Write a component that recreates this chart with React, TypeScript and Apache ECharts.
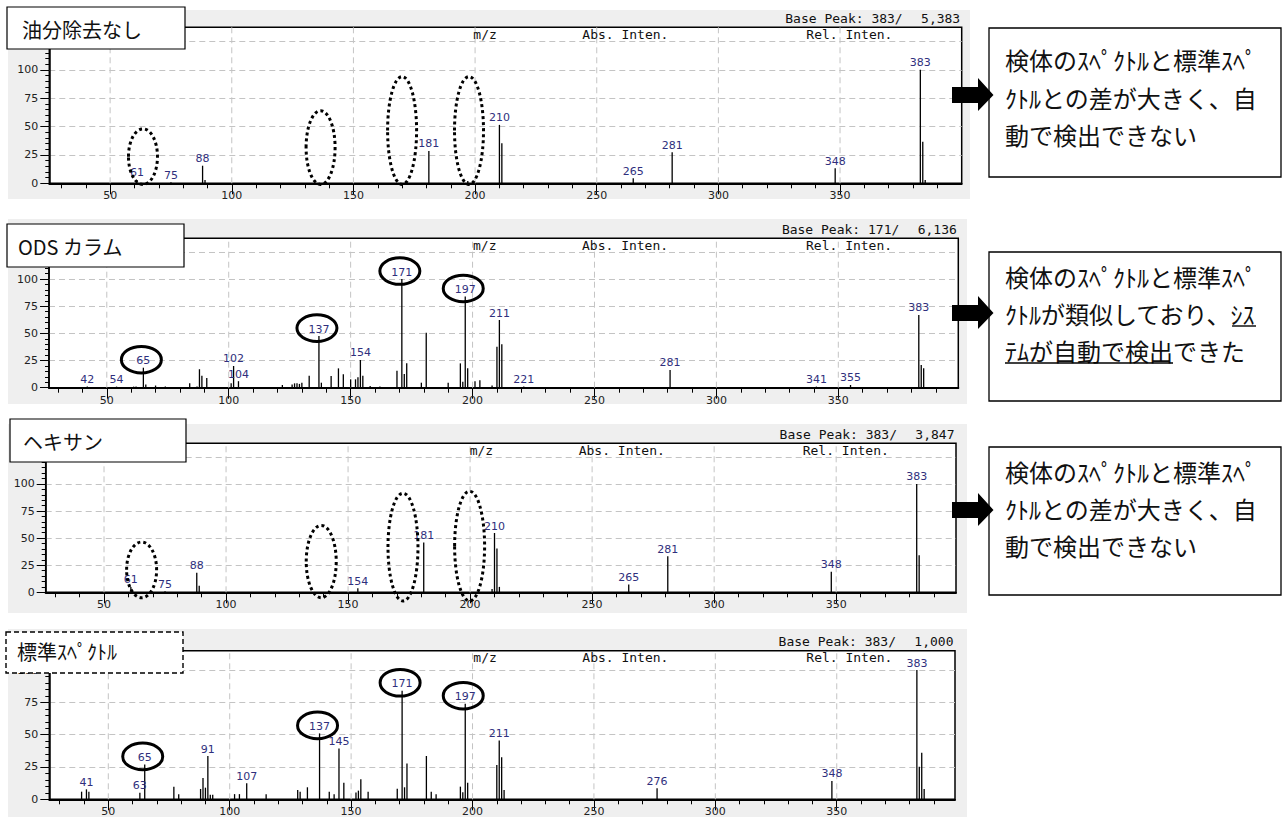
import React, { useEffect, useRef } from 'react';
import * as echarts from 'echarts';

// ---------- data ----------
const TITLES = ['油分除去なし', 'ODS カラム', 'ヘキサン', '標準ｽﾍﾟｸﾄﾙ'];

const P1_MZ = [61, 75, 88, 89, 181, 197, 210, 211, 265, 281, 348, 383, 384, 385];
const P1_INT = [3, 1, 15.5, 3, 28.5, 2, 51.5, 35.3, 4.4, 27.4, 13.2, 100, 36.7, 3];
const P1_LABELED = [61, 75, 88, 181, 210, 265, 281, 348, 383];
const P1_BASE = ['383', '5,383'];

const P2_MZ = [42, 54, 61, 62, 65, 66, 70, 74, 84, 87, 88, 89, 91, 101, 102, 104, 122, 126, 127, 128, 129, 130, 133, 137, 138, 142, 145, 147, 150, 152, 153, 154, 155, 158, 162, 169, 171, 172, 173, 179, 181, 190, 195, 196, 197, 198, 201, 203, 208, 210, 211, 212, 221, 281, 341, 355, 383, 384, 385];
const P2_INT = [1, 1, 1, 1, 18.4, 3, 2, 1, 4, 1, 17, 11, 9, 4, 20, 6, 2.5, 3, 4, 4, 3.5, 4.5, 11, 47.5, 4.6, 10.8, 17.8, 12.3, 7.7, 7.7, 9.6, 25.5, 11, 1.5, 1, 15.6, 100, 12.6, 22.4, 4.6, 50.6, 4.6, 22.4, 5.4, 84, 17.8, 6, 6.8, 2, 37.7, 62.3, 40, 1, 16.3, 1, 2.5, 67, 21, 18];
const P2_LABELED = [42, 54, 65, 102, 104, 137, 154, 171, 197, 211, 221, 281, 341, 355, 383];
const P2_CIRCLED = [65, 137, 171, 197];
const P2_BASE = ['171', '6,136'];

const P3_MZ = [61, 75, 88, 89, 154, 181, 209, 210, 211, 212, 265, 281, 348, 383, 384];
const P3_INT = [5, 1, 18, 6, 3.7, 46, 3, 54.7, 40.4, 5, 7.3, 33.3, 19, 100, 34.2];
const P3_LABELED = [61, 75, 88, 154, 181, 210, 265, 281, 348, 383];
const P3_BASE = ['383', '3,847'];

const P4_MZ = [39, 41, 42, 63, 65, 77, 79, 88, 89, 90, 91, 92, 93, 102, 104, 107, 115, 128, 129, 132, 137, 141, 143, 145, 147, 152, 153, 154, 157, 169, 171, 172, 173, 181, 183, 185, 195, 196, 197, 198, 210, 211, 212, 213, 276, 348, 383, 384, 385, 386];
const P4_INT = [5.9, 7.7, 5.9, 5.1, 27, 9.7, 3.9, 8, 16.5, 9, 33.5, 3.5, 3.5, 4, 4, 12.4, 4, 7.2, 5.9, 9.3, 51, 5.9, 3.9, 39.4, 12.9, 5.2, 6.7, 15.5, 5.9, 8.2, 84, 9.3, 27.8, 33.5, 5.9, 3.9, 9.8, 5.5, 74, 12.9, 26.5, 45.6, 32.5, 7.2, 8.5, 14.2, 100, 25.2, 36, 7.9];
const P4_LABELED = [41, 63, 65, 91, 107, 137, 145, 171, 197, 211, 276, 348, 383];
const P4_CIRCLED = [65, 137, 171, 197];
const P4_BASE = ['383', '1,000'];

// dotted ellipses marking missing peaks (m/z centre, top, bottom in % units)
const P1_MARK_MZ = [63.5, 136.5, 170, 197.5];
const P1_MARK_TOP = [48, 64, 94, 94];
const P1_MARK_BOTTOM = [-1, -1, -1, -1];
const P3_MARK_MZ = [65.4, 139, 172.5, 199.8];
const P3_MARK_TOP = [46.4, 61.7, 91.4, 93.2];
const P3_MARK_BOTTOM = [-5, -5, -8, -8];

const X_LABELS = [50, 100, 150, 200, 250, 300, 350];
const X_MINOR = [30, 40, 60, 70, 80, 90, 110, 120, 130, 140, 160, 170, 180, 190, 210, 220, 230, 240, 260, 270, 280, 290, 310, 320, 330, 340, 360, 370, 380, 390];
const Y_LABELS = [0, 25, 50, 75, 100];

const NOTE_1 = ['検体のｽﾍﾟｸﾄﾙと標準ｽﾍﾟ', 'ｸﾄﾙとの差が大きく、自', '動で検出できない'];
const NOTE_2 = ['検体のｽﾍﾟｸﾄﾙと標準ｽﾍﾟ', 'ｸﾄﾙが類似しており、ｼｽ', 'ﾃﾑが自動で検出できた'];
const NOTE_3 = ['検体のｽﾍﾟｸﾄﾙと標準ｽﾍﾟ', 'ｸﾄﾙとの差が大きく、自', '動で検出できない'];
// underlined character ranges in note 2: [line, start, end]
const NOTE_2_UNDERLINE = [[1, 11, 13], [2, 0, 8]];

const PANELS = [
  { mz: P1_MZ, inten: P1_INT, labeled: P1_LABELED, base: P1_BASE, circled: [] as number[], mark: { mz: P1_MARK_MZ, top: P1_MARK_TOP, bottom: P1_MARK_BOTTOM } },
  { mz: P2_MZ, inten: P2_INT, labeled: P2_LABELED, base: P2_BASE, circled: P2_CIRCLED, mark: null as any },
  { mz: P3_MZ, inten: P3_INT, labeled: P3_LABELED, base: P3_BASE, circled: [] as number[], mark: { mz: P3_MARK_MZ, top: P3_MARK_TOP, bottom: P3_MARK_BOTTOM } },
  { mz: P4_MZ, inten: P4_INT, labeled: P4_LABELED, base: P4_BASE, circled: P4_CIRCLED, mark: null as any },
];

// ---------- layout ----------
const LAYOUT = [
  { left: 49.3, top: 27.3, width: 912.4, height: 156, xMin: 25, xMax: 400, yMax: 137.5, bg: [8, 10, 962, 189], box: [7, 7, 178, 42], tx: 22, ty: 29.5, dashed: false, rx: 14.5 },
  { left: 49, top: 238.3, width: 909.3, height: 149.4, xMin: 26.3, xMax: 399.2, yMax: 137.5, bg: [8, 219, 959, 185], box: [7, 224, 177, 43], tx: 18, ty: 246.5, dashed: false, rx: 15 },
  { left: 45.7, top: 443.3, width: 910.3, height: 149, xMin: 26.1, xMax: 399.1, yMax: 137.5, bg: [8, 424, 959, 189], box: [10, 419, 176, 43], tx: 23, ty: 441.5, dashed: false, rx: 15 },
  { left: 49.3, top: 650.7, width: 905.7, height: 148.6, xMin: 25.7, xMax: 398.7, yMax: 115, bg: [8, 629, 959, 188], box: [6, 632, 177, 41], tx: 17, ty: 651.5, dashed: true, rx: 15 },
];

const NOTE_LAYOUT = [
  { x: 989, y: 28, w: 292, h: 149, lines: [59, 97, 134], arrowY: 95, text: NOTE_1 },
  { x: 989, y: 252, w: 292, h: 149, lines: [276.5, 313.5, 350.5], arrowY: 313, text: NOTE_2 },
  { x: 989, y: 447, w: 292, h: 148, lines: [471.5, 508.5, 545.5], arrowY: 510, text: NOTE_3 },
];

const MONO = '"DejaVu Sans Mono", monospace';
const SANS = '"DejaVu Sans", sans-serif';
const CJK = '"Noto Sans CJK JP", sans-serif';
const LABEL_BLUE = '#2f2f7d';
const GRID_GRAY = '#c4c4c4';

function measure(s: string, font: string): number {
  const c = document.createElement('canvas').getContext('2d');
  if (!c) return s.length * 20;
  c.font = font;
  return c.measureText(s).width;
}

function textEl(text: string, x: number, y: number, font: string, align: string, fill = '#111', z = 50) {
  return {
    type: 'text', x, y, z, silent: true,
    style: { text, fill, font, textAlign: align, align, textVerticalAlign: 'middle', verticalAlign: 'middle' },
  };
}

function buildOption() {
  const grid: any[] = [];
  const xAxis: any[] = [];
  const yAxis: any[] = [];
  const series: any[] = [];
  const graphic: any[] = [];

  PANELS.forEach((p, i) => {
    const l = LAYOUT[i];
    grid.push({
      left: l.left, top: l.top, width: l.width, height: l.height,
      show: true, backgroundColor: '#fff', borderColor: '#000', borderWidth: 1.5,
      containLabel: false, outerBoundsMode: 'none',
    });
    xAxis.push({
      type: 'value', gridIndex: i, min: l.xMin, max: l.xMax, position: 'bottom',
      axisLine: { show: true, onZero: false, lineStyle: { color: '#000', width: 2 } },
      axisTick: { show: true, customValues: X_LABELS, length: 11, lineStyle: { color: '#000', width: 1 } },
      axisLabel: { show: true, customValues: X_LABELS, margin: 7, color: '#222', fontSize: 11, fontFamily: SANS },
      splitLine: { show: false }, minorTick: { show: false },
    });
    xAxis.push({
      type: 'value', gridIndex: i, min: l.xMin, max: l.xMax, position: 'bottom',
      axisLine: { show: false },
      axisTick: { show: true, customValues: X_MINOR, length: 5, lineStyle: { color: '#000', width: 1 } },
      axisLabel: { show: false }, splitLine: { show: false },
    });
    yAxis.push({
      type: 'value', gridIndex: i, min: 0, max: l.yMax, interval: 25,
      axisLine: { show: true, lineStyle: { color: '#000', width: 1.5 } },
      axisTick: { show: true, length: 9, lineStyle: { color: '#000', width: 1 } },
      minorTick: { show: true, splitNumber: 5, length: 4, lineStyle: { color: '#000', width: 1 } },
      axisLabel: {
        margin: 11, color: '#222', fontSize: 11, fontFamily: SANS,
        formatter: (v: number) => (Y_LABELS.indexOf(v) >= 0 ? String(v) : ''),
      },
      splitLine: { show: true, showMinLine: false, showMaxLine: false, lineStyle: { color: GRID_GRAY, type: [6, 4], width: 1 } },
    });

    // vertical dashed grid lines
    series.push({
      type: 'custom', xAxisIndex: 2 * i, yAxisIndex: i, z: 1, silent: true,
      data: X_LABELS.map((v) => [v, 0]), encode: { x: 0, y: 1 },
      renderItem: (_params: any, api: any) => {
        const a = api.coord([api.value(0), 0]);
        const b = api.coord([api.value(0), l.yMax]);
        return { type: 'line', shape: { x1: a[0], y1: a[1], x2: b[0], y2: b[1] }, style: { stroke: GRID_GRAY, lineWidth: 1, lineDash: [6, 4] } };
      },
    });

    // peaks
    series.push({
      type: 'bar', xAxisIndex: 2 * i, yAxisIndex: i, z: 3, barWidth: 1.3, silent: true,
      itemStyle: { color: '#000' },
      label: {
        show: false, position: 'top', distance: 1.5, color: LABEL_BLUE, fontSize: 11, fontFamily: SANS,
        formatter: (q: any) => String(q.value[0]),
      },
      data: p.mz.map((m, k) => (p.labeled.indexOf(m) >= 0
        ? { value: [m, p.inten[k]], label: { show: true } }
        : { value: [m, p.inten[k]] })),
    });

    // dotted ellipses
    if (p.mark) {
      series.push({
        type: 'custom', xAxisIndex: 2 * i, yAxisIndex: i, z: 10, clip: false, silent: true,
        data: p.mark.mz.map((m: number, k: number) => [m, p.mark.top[k], p.mark.bottom[k]]),
        encode: { x: 0, y: 1 },
        renderItem: (_params: any, api: any) => {
          const t = api.coord([api.value(0), api.value(1)]);
          const b = api.coord([api.value(0), api.value(2)]);
          return {
            type: 'ellipse',
            shape: { cx: t[0], cy: (t[1] + b[1]) / 2, rx: l.rx, ry: (b[1] - t[1]) / 2 },
            style: { fill: 'none', stroke: '#000', lineWidth: 3, lineDash: [3, 3] },
          };
        },
      });
    }
    // solid circles around matched peak labels
    if (p.circled.length) {
      series.push({
        type: 'custom', xAxisIndex: 2 * i, yAxisIndex: i, z: 10, clip: false, silent: true,
        data: p.circled.map((m) => [m, p.inten[p.mz.indexOf(m)]]),
        encode: { x: 0, y: 1 },
        renderItem: (_params: any, api: any) => {
          const t = api.coord([api.value(0), api.value(1)]);
          return {
            type: 'ellipse',
            shape: { cx: t[0] - 2, cy: t[1] - 8, rx: 20, ry: 13.3 },
            style: { fill: 'none', stroke: '#000', lineWidth: 3 },
          };
        },
      });
    }

    // panel background
    graphic.push({ type: 'rect', z: -10, silent: true, shape: { x: l.bg[0], y: l.bg[1], width: l.bg[2], height: l.bg[3] }, style: { fill: '#efefef' } });
    // header texts
    const hf = `13px ${MONO}`;
    const right = l.left + l.width;
    graphic.push(textEl('m/z', l.left + 424, l.top + 7, hf, 'left'));
    graphic.push(textEl('Abs. Inten.', l.left + 533, l.top + 7, hf, 'left'));
    graphic.push(textEl('Rel. Inten.', l.left + 757, l.top + 7, hf, 'left'));
    graphic.push(textEl(`Base Peak: ${p.base[0]}/`, right - 59, l.top - 9, hf, 'right'));
    graphic.push(textEl(p.base[1], right - 1.5, l.top - 9, hf, 'right'));
    // title box
    graphic.push({
      type: 'rect', z: 100, silent: true,
      shape: { x: l.box[0], y: l.box[1], width: l.box[2], height: l.box[3] },
      style: { fill: '#fff', stroke: '#000', lineWidth: l.dashed ? 1.4 : 1.2, lineDash: l.dashed ? [5, 3] : null },
    });
    graphic.push(textEl(TITLES[i], l.tx, l.ty, `20px ${CJK}`, 'left', '#111', 101));
  });

  // notes and arrows
  const nf = `24px ${CJK}`;
  NOTE_LAYOUT.forEach((n, j) => {
    graphic.push({
      type: 'rect', z: 100, silent: true,
      shape: { x: n.x, y: n.y, width: n.w, height: n.h },
      style: { fill: '#fff', stroke: '#000', lineWidth: 1.3 },
    });
    n.text.forEach((line, k) => {
      graphic.push(textEl(line, 1005, n.lines[k], nf, 'left', '#111', 101));
    });
    const c = n.arrowY;
    graphic.push({
      type: 'polygon', z: 100, silent: true,
      shape: { points: [[952, c - 8], [978, c - 8], [978, c - 17], [993.5, c], [978, c + 16], [978, c + 8], [952, c + 8]] },
      style: { fill: '#000' },
    });
    if (j === 1) {
      NOTE_2_UNDERLINE.forEach(([li, s, e]) => {
        const str = n.text[li];
        const x1 = 1005 + measure(str.slice(0, s), nf);
        const x2 = 1005 + measure(str.slice(0, e), nf);
        const y = n.lines[li] + 12.5;
        graphic.push({ type: 'line', z: 101, silent: true, shape: { x1, y1: y, x2, y2: y }, style: { stroke: '#000', lineWidth: 1.4 } });
      });
    }
  });

  return { animation: false, backgroundColor: '#fff', grid, xAxis, yAxis, series, graphic };
}

export default function App() {
  const ref = useRef<HTMLDivElement>(null);
  useEffect(() => {
    if (!ref.current) return;
    const chart = echarts.init(ref.current, undefined, { renderer: 'svg' });
    chart.setOption(buildOption() as any);
    return () => chart.dispose();
  }, []);
  return <div ref={ref} style={{ position: 'absolute', left: 0, top: 0, width: 1282, height: 818 }} />;
}
